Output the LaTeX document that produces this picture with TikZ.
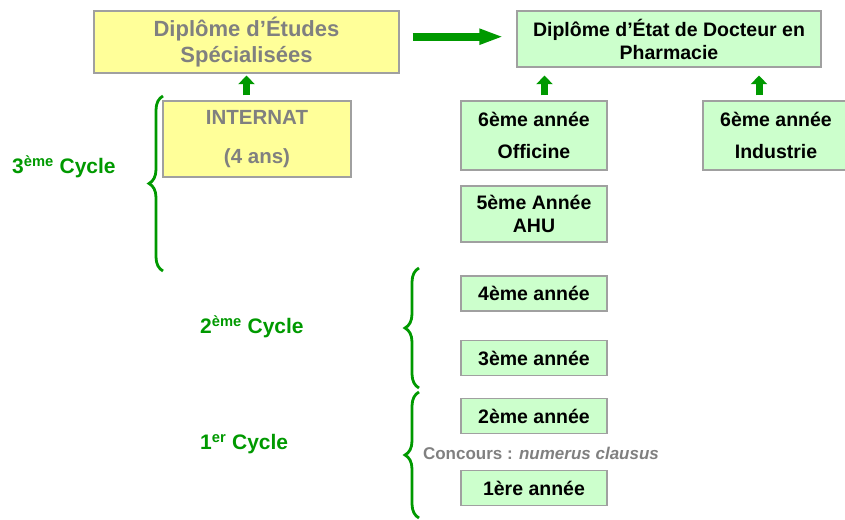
\documentclass[tikz,border=0pt]{standalone}
\usepackage{fontspec}
\setmainfont{Liberation Sans}
\usetikzlibrary{arrows.meta,decorations.pathreplacing,calc}

\definecolor{boxgreen}{HTML}{CCFFCC}
\definecolor{boxyellow}{HTML}{FFFF99}
\definecolor{edgegray}{HTML}{A0A0A0}
\definecolor{textgray}{HTML}{808080}
\definecolor{cyclegreen}{HTML}{009900}

\begin{document}
\begin{tikzpicture}[x=1pt,y=-1pt,
  box/.style={draw=edgegray, line width=1.2pt, inner sep=0pt, align=center,
    font=\bfseries\fontsize{19.5}{23}\selectfont},
  greenbox/.style={box, fill=boxgreen, text=black},
  yellowbox/.style={box, fill=boxyellow, text=textgray},
  upar/.style={draw=cyclegreen, line width=7pt, -{Triangle[length=8.5pt,width=16pt]}},
  bigar/.style={draw=cyclegreen, line width=8pt, -{Triangle[length=24pt,width=14.5pt]}},
  cyclebrace/.style={draw=cyclegreen, line width=2.8pt, decorate,
    decoration={brace, amplitude=14pt}},
  cyclelabel/.style={text=cyclegreen, inner sep=0pt, anchor=west,
    font=\bfseries\fontsize{21}{24}\selectfont}
]
\useasboundingbox (0,0) rectangle (845,519);

% diplomas
\node[yellowbox, minimum width=305pt, minimum height=62pt,
  font=\bfseries\fontsize{22}{26}\selectfont] (des) at (246.5,42)
  {Diplôme d’Études\\Spécialisées};
\node[greenbox, minimum width=304pt, minimum height=56pt] (dedp) at (669,39)
  {Diplôme d’État de Docteur en\\Pharmacie};

% third cycle
\node[yellowbox, minimum width=188pt, minimum height=76pt,
  font=\bfseries\fontsize{20.5}{23}\selectfont] (internat) at (257,139)
  {\raisebox{-3pt}{INTERNAT}\\[19pt](4 ans)};
\node[greenbox, minimum width=146pt, minimum height=69pt] (off) at (534,135.5)
  {\raisebox{-2pt}{6ème année}\\[11pt]Officine};
\node[greenbox, minimum width=146pt, minimum height=69pt] (ind) at (776,135.5)
  {\raisebox{-2pt}{6ème année}\\[11pt]Industrie};
\node[greenbox, minimum width=146pt, minimum height=56pt] (ahu) at (534,214)
  {5ème Année\\AHU};

% first and second cycles
\node[greenbox, minimum width=146pt, minimum height=35pt] (y4) at (534,293.5) {4ème année};
\node[greenbox, minimum width=146pt, minimum height=35pt] (y3) at (534,358) {3ème année};
\node[greenbox, minimum width=146pt, minimum height=35pt] (y2) at (534,416) {2ème année};
\node[greenbox, minimum width=146pt, minimum height=35pt] (y1) at (534,488) {1ère année};

\node[text=textgray, inner sep=0pt, font=\bfseries\fontsize{17}{20}\selectfont]
  (concours) at (541,453) {Concours : \textit{numerus clausus}};

% arrows
\coordinate (arrowrow) at (0,36.7);
\coordinate (xoff) at (544.5,0);
\coordinate (xind) at (759,0);
\draw[bigar, shorten <=13pt, shorten >=13pt] (des.east |- arrowrow) -- (dedp.west |- arrowrow);
\draw[upar, shorten <=5pt, shorten >=2pt] (des.south |- internat.north) -- (des.south);
\draw[upar, shorten <=5pt, shorten >=8pt] (off.north -| xoff) -- (dedp.south -| xoff);
\draw[upar, shorten <=5pt, shorten >=8pt] (ind.north -| xind) -- (dedp.south -| xind);

% cycle braces
\coordinate (b3top) at (163,96);   \coordinate (b3bot) at (163,271);
\coordinate (b2top) at (419,268);  \coordinate (b2bot) at (419,388);
\coordinate (b1top) at (419,392);  \coordinate (b1bot) at (419,518);
\draw[cyclebrace] (b3bot) -- (b3top);
\draw[cyclebrace] (b2bot) -- (b2top);
\draw[cyclebrace] (b1bot) -- (b1top);

\node[cyclelabel] (c3) at (12,167) {3\textsuperscript{ème} Cycle};
\node[cyclelabel] (c2) at (200,327) {2\textsuperscript{ème} Cycle};
\node[cyclelabel] (c1) at (200,444) {1\textsuperscript{er} Cycle};
\end{tikzpicture}
\end{document}
